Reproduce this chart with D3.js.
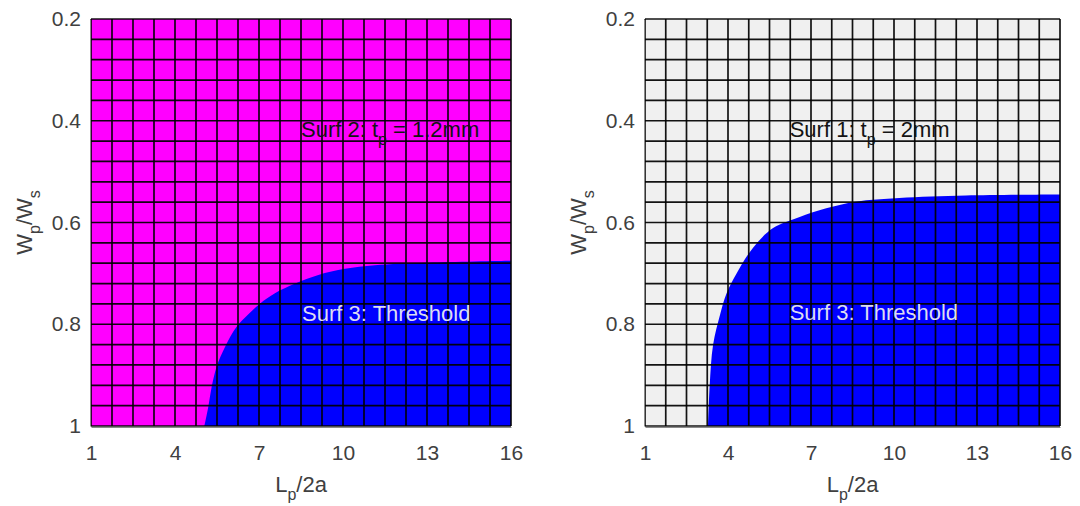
<!DOCTYPE html>
<html>
<head>
<meta charset="utf-8">
<script src="https://cdn.jsdelivr.net/npm/d3@7"></script>
<style>
  html, body { margin: 0; padding: 0; background: #ffffff; }
  svg { display: block; font-family: "Liberation Sans", Arial, Helvetica, sans-serif; }
</style>
</head>
<body>
<svg id="chart" width="1080" height="506"></svg>
<script>
// Axis ticks
const L_TICKS = [1, 4, 7, 10, 13, 16];
const W_TICKS = [0.2, 0.4, 0.6, 0.8, 1];

// Surface mesh nodes (Lp/2a along x, Wp/Ws along y)
const MESH_L = [1, 1.75, 2.5, 3.25, 4, 4.75, 5.5, 6.25, 7, 7.75, 8.5, 9.25, 10,
                10.75, 11.5, 12.25, 13, 13.75, 14.5, 15.25, 16];
const MESH_W = [0.2, 0.24, 0.28, 0.32, 0.36, 0.4, 0.44, 0.48, 0.52, 0.56, 0.6,
                0.64, 0.68, 0.72, 0.76, 0.8, 0.84, 0.88, 0.92, 0.96, 1];

// Threshold boundary, tp = 1.2 mm
const THR_L_12 = [5.05, 5.19, 5.31, 5.49, 5.79, 6.20, 6.63, 7.04, 7.57, 8.29, 9.12, 10.07, 11.14, 13.04, 16];
const THR_W_12 = [1.0, 0.962, 0.923, 0.883, 0.844, 0.805, 0.780, 0.759, 0.739, 0.720, 0.703, 0.691, 0.684, 0.679, 0.675];

// Threshold boundary, tp = 2 mm
const THR_L_2 = [3.28, 3.34, 3.46, 3.72, 3.95, 4.31, 4.90, 5.63, 6.59, 7.55, 8.63, 10.19, 12.60, 16];
const THR_W_2 = [1.0, 0.919, 0.841, 0.780, 0.739, 0.700, 0.650, 0.611, 0.589, 0.572, 0.559, 0.552, 0.547, 0.545];

// Surface labels: pieces of [text, isSubscript]
const LABEL_SURF2 = [["Surf 2: t", false], ["p", true], [" = 1.2mm", false]];
const LABEL_SURF1 = [["Surf 1: t", false], ["p", true], [" = 2mm", false]];
const LABEL_SURF3 = [["Surf 3: Threshold", false]];
const X_TITLE = [["L", false], ["p", true], ["/2a", false]];
const Y_TITLE = [["W", false], ["p", true], ["/W", false], ["s", true]];

const panels = [
  {
    left: 91, right: 511, top: 19, bottom: 426,
    base: "#ff00ff",
    thrL: THR_L_12, thrW: THR_W_12,
    upper: { pieces: LABEL_SURF2, L: 8.5, W: 0.432, color: "#141414" },
    lower: { pieces: LABEL_SURF3, L: 8.54, W: 0.794, color: "#dcdcf2" }
  },
  {
    left: 645, right: 1060, top: 19, bottom: 426,
    base: "#f0f0f0",
    thrL: THR_L_2, thrW: THR_W_2,
    upper: { pieces: LABEL_SURF1, L: 6.23, W: 0.432, color: "#141414" },
    lower: { pieces: LABEL_SURF3, L: 6.23, W: 0.792, color: "#dcdcf2" }
  }
];

const svg = d3.select("#chart");

// Writes text made of normal and subscript pieces into a <text> element
function richText(sel, pieces, size, subSize) {
  let shifted = false;
  pieces.forEach(([str, sub]) => {
    const t = sel.append("tspan").text(str);
    if (sub && !shifted) { t.attr("dy", size * 0.38).attr("font-size", subSize); shifted = true; }
    else if (sub) { t.attr("font-size", subSize); }
    else if (!sub && shifted) { t.attr("dy", -size * 0.38); shifted = false; }
  });
}

panels.forEach(p => {
  const x = d3.scaleLinear().domain([1, 16]).range([p.left, p.right]);
  const y = d3.scaleLinear().domain([0.2, 1]).range([p.top, p.bottom]);
  const g = svg.append("g");

  // Base surface
  g.append("rect")
    .attr("x", x(1)).attr("y", y(0.2))
    .attr("width", x(16) - x(1)).attr("height", y(1) - y(0.2))
    .attr("fill", p.base);

  // Threshold region: under the boundary curve to the right edge
  const pts = p.thrL.map((L, i) => [L, p.thrW[i]]);
  const curve = d3.line().x(d => x(d[0])).y(d => y(d[1])).curve(d3.curveCatmullRom.alpha(0.5));
  const edge = curve(pts);
  g.append("path")
    .attr("d", edge + `L${x(16)},${y(1)}Z`)
    .attr("fill", "#0000ff");

  // Mesh lines
  const meshStyle = s => s.attr("stroke", "#000").attr("stroke-width", 1.7).attr("stroke-opacity", 0.92);
  g.append("g").selectAll("line").data(MESH_L).join("line")
    .attr("x1", d => x(d)).attr("x2", d => x(d))
    .attr("y1", y(0.2)).attr("y2", y(1))
    .call(meshStyle);
  g.append("g").selectAll("line").data(MESH_W).join("line")
    .attr("y1", d => y(d)).attr("y2", d => y(d))
    .attr("x1", x(1)).attr("x2", x(16))
    .call(meshStyle);

  // Axes
  const xAxis = d3.axisBottom(x).tickValues(L_TICKS).tickSize(0).tickPadding(18).tickFormat(d3.format("d"));
  const yAxis = d3.axisLeft(y).tickValues(W_TICKS).tickSize(0).tickPadding(9).tickFormat(d => d === 1 ? "1" : d3.format(".1f")(d));
  const gx = g.append("g").attr("transform", `translate(0,${p.bottom + 1})`).call(xAxis);
  const gy = g.append("g").attr("transform", `translate(${p.left - 1},0)`).call(yAxis);
  [gx, gy].forEach(a => {
    a.select(".domain").attr("stroke", "#8a8a8a").attr("stroke-width", 1);
    a.selectAll("text").attr("font-size", 21).attr("fill", "#404040")
      .attr("font-family", "Liberation Sans, Arial, sans-serif");
  });

  // Axis titles
  const xt = g.append("text")
    .attr("x", (p.left + p.right) / 2).attr("y", 492)
    .attr("text-anchor", "middle").attr("font-size", 22).attr("fill", "#404040");
  richText(xt, X_TITLE, 22, 16);

  const yt = g.append("text")
    .attr("transform", `translate(${p.left - 59},${(p.top + p.bottom) / 2}) rotate(-90)`)
    .attr("text-anchor", "middle").attr("font-size", 22).attr("fill", "#404040");
  richText(yt, Y_TITLE, 22, 16);

  // Surface annotations
  [p.upper, p.lower].forEach(a => {
    const t = g.append("text")
      .attr("x", x(a.L)).attr("y", y(a.W))
      .attr("font-size", 22).attr("fill", a.color);
    richText(t, a.pieces, 22, 16);
  });
});
</script>
</body>
</html>
